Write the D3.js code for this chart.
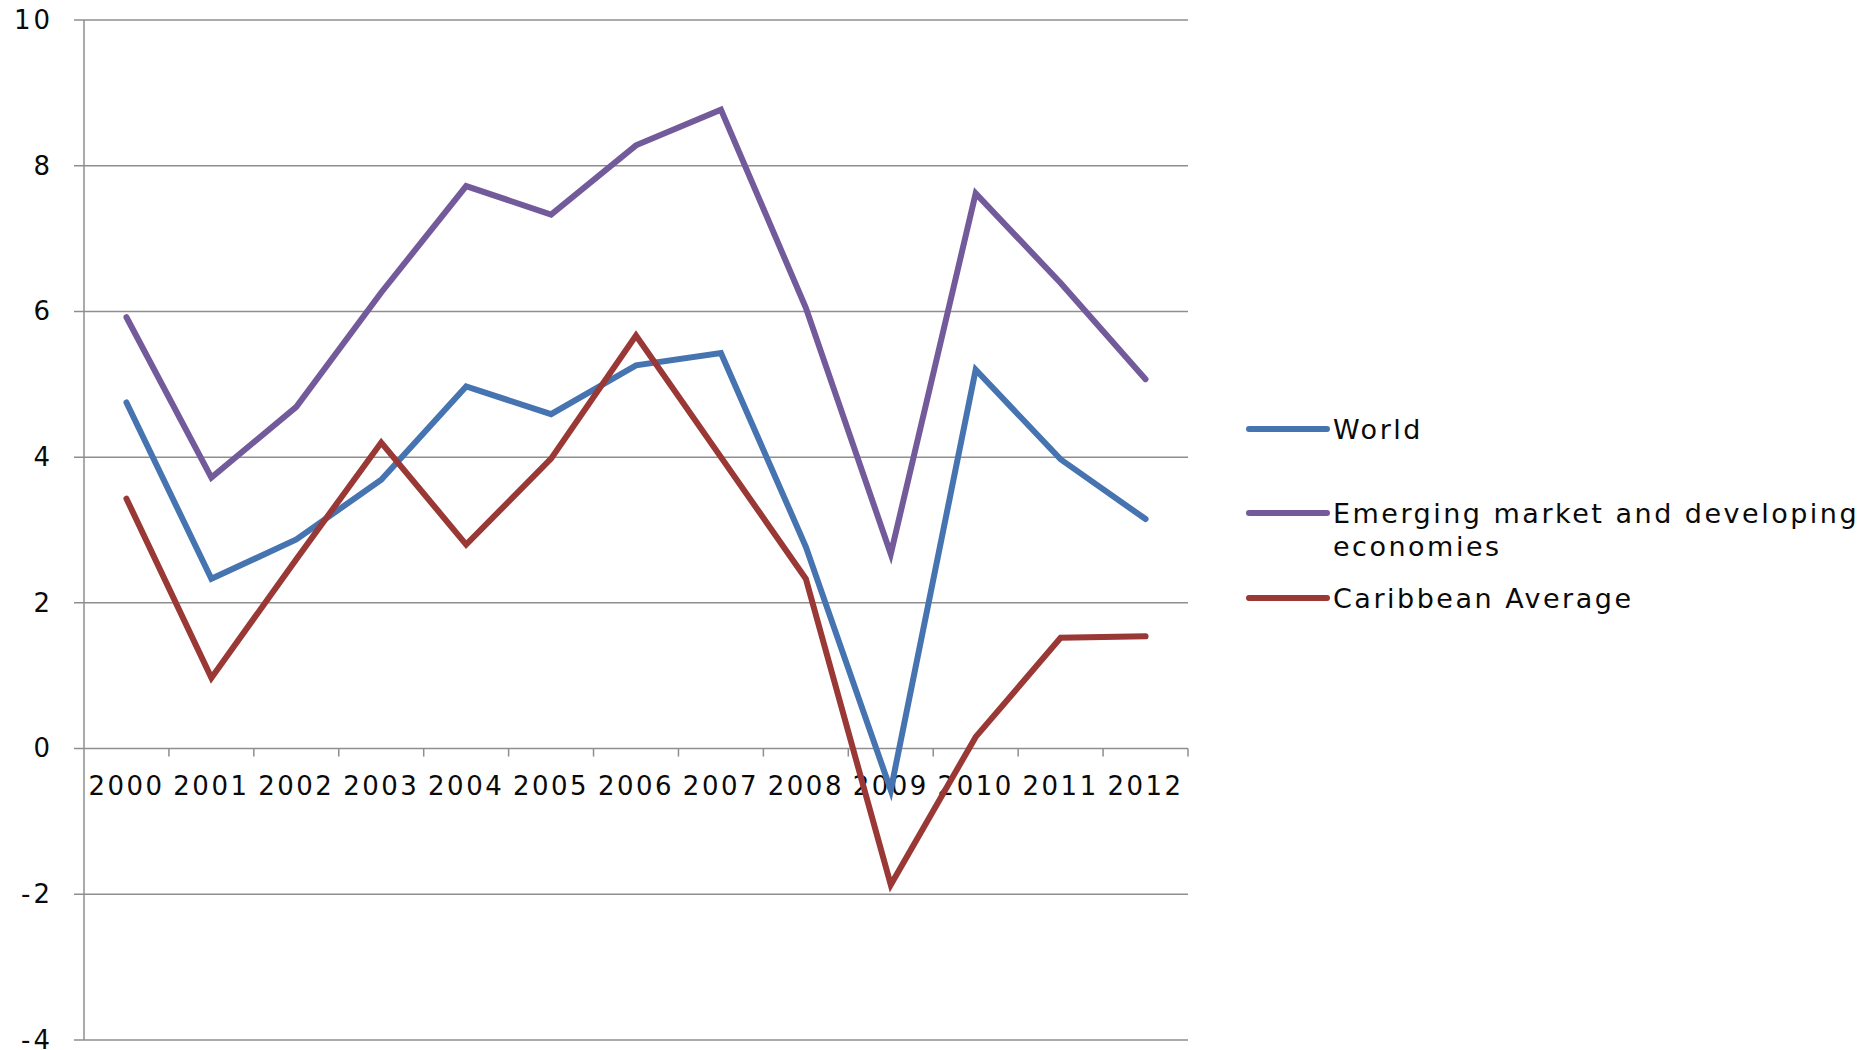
<!DOCTYPE html>
<html>
<head>
<meta charset="utf-8">
<script src="https://cdn.jsdelivr.net/npm/d3@7"></script>
<style>
  body { margin: 0; background: #fff; }
  text { font-family: "DejaVu Sans", sans-serif; fill: #0a0a0a; }
</style>
</head>
<body>
<div class="chart"></div>
<script>
const years = ["2000","2001","2002","2003","2004","2005","2006","2007","2008","2009","2010","2011","2012"];
const world = [4.75, 2.33, 2.87, 3.69, 4.97, 4.59, 5.26, 5.43, 2.77, -0.57, 5.20, 3.97, 3.15];
const emerging = [5.92, 3.72, 4.69, 6.26, 7.72, 7.33, 8.28, 8.77, 6.05, 2.67, 7.62, 6.39, 5.07];
const caribbean = [3.43, 0.97, 2.6, 4.20, 2.80, 3.98, 5.67, 4.0, 2.33, -1.87, 0.16, 1.52, 1.54];
const yTicks = [-4, -2, 0, 2, 4, 6, 8, 10];

const series = [
  { name: "World", values: world, color: "#4674b0" },
  { name: "Emerging market and developing economies", lines: ["Emerging market and developing", "economies"], values: emerging, color: "#735b9b" },
  { name: "Caribbean Average", values: caribbean, color: "#993835" }
];

const width = 1875, height = 1050;
const plotLeft = 84, plotRight = 1188, plotTop = 20, plotBottom = 1040;

const svg = d3.select(".chart").append("svg")
  .attr("width", width)
  .attr("height", height);

const x = d3.scaleBand().domain(years).range([plotLeft, plotRight]).padding(0);
const y = d3.scaleLinear().domain([-4, 10]).range([plotBottom, plotTop]);

// gridlines
svg.append("g").selectAll("line")
  .data(yTicks)
  .enter().append("line")
  .attr("x1", plotLeft - 10).attr("x2", plotRight)
  .attr("y1", d => y(d)).attr("y2", d => y(d))
  .attr("stroke", "#8e8e8e").attr("stroke-width", 1.5);

// vertical axis line
svg.append("line")
  .attr("x1", plotLeft).attr("x2", plotLeft)
  .attr("y1", y(10)).attr("y2", y(-4))
  .attr("stroke", "#8e8e8e").attr("stroke-width", 1.5);

// y labels
const yAxis = d3.axisLeft(y).tickValues(yTicks).tickSize(0).tickPadding(0)
  .tickFormat(d => String(d));
const gy = svg.append("g").attr("transform", `translate(${plotLeft - 31},0)`).call(yAxis);
gy.select(".domain").remove();
gy.selectAll("text")
  .style("font-size", "26px")
  .attr("letter-spacing", "3px")
  .attr("fill", "#0a0a0a");

// x axis ticks at band boundaries
const bounds = years.map(d => x(d)).concat([x.range()[1]]);
svg.append("g").selectAll("line")
  .data(bounds.slice(1))
  .enter().append("line")
  .attr("x1", d => d).attr("x2", d => d)
  .attr("y1", y(0)).attr("y2", y(0) + 8)
  .attr("stroke", "#8e8e8e").attr("stroke-width", 1.5);

const xAxis = d3.axisBottom(x).tickSize(0).tickPadding(0);
const gx = svg.append("g").attr("transform", `translate(0,${y(0) + 28})`).call(xAxis);
gx.select(".domain").remove();
gx.selectAll("text")
  .style("font-size", "26px")
  .attr("letter-spacing", "2.5px")
  .attr("fill", "#0a0a0a");

// lines
const line = d3.line()
  .x((d, i) => x(years[i]) + x.bandwidth() / 2)
  .y(d => y(d));

svg.append("g").selectAll("path")
  .data(series)
  .enter().append("path")
  .attr("d", d => line(d.values))
  .attr("fill", "none")
  .attr("stroke", d => d.color)
  .attr("stroke-width", 6)
  .attr("stroke-linecap", "round")
  .attr("stroke-linejoin", "miter");

// legend
const legendY = [429, 513, 598];
const legend = svg.append("g").selectAll("g")
  .data(series)
  .enter().append("g")
  .attr("transform", (d, i) => `translate(1249,${legendY[i]})`);

legend.append("line")
  .attr("x1", 0).attr("x2", 78)
  .attr("stroke", d => d.color)
  .attr("stroke-width", 6)
  .attr("stroke-linecap", "round");

legend.each(function (d) {
  const t = d3.select(this).append("text")
    .attr("x", 84)
    .attr("y", 10)
    .style("font-size", "27px")
    .attr("letter-spacing", "2.5px");
  const parts = d.lines || [d.name];
  parts.forEach((p, j) => {
    t.append("tspan").attr("x", 84).attr("dy", j === 0 ? 0 : 33).text(p);
  });
});
</script>
</body>
</html>
